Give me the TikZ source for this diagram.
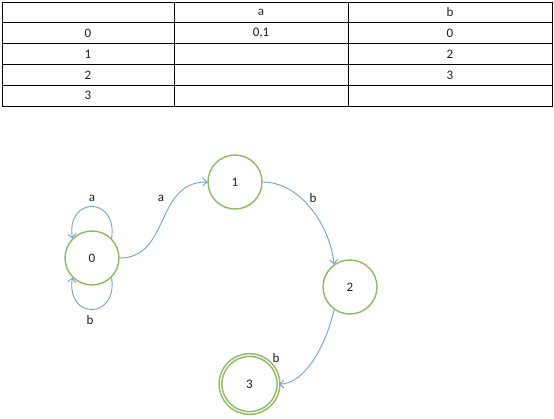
\documentclass[tikz,border=0pt]{standalone}
\usepackage{fontspec}
\setmainfont{Carlito}
\usetikzlibrary{arrows.meta}
\definecolor{stgreen}{RGB}{140,186,92}
\definecolor{edgeblue}{RGB}{118,160,212}
\definecolor{txt}{RGB}{30,30,30}
\begin{document}
\begin{tikzpicture}[x=1pt,y=-1pt,
  every node/.style={font=\fontsize{13}{15}\selectfont, text=txt},
  gridline/.style={draw=black, line width=0.7pt},
  state/.style={circle, draw=stgreen, line width=1.4pt, minimum size=54pt, inner sep=0pt, fill=white},
  accept/.style={circle, draw=stgreen, line width=1.5pt, double=white, double distance=1.2pt, minimum size=58pt, inner sep=0pt},
  edge/.style={draw=edgeblue, line width=0.9pt, -{Straight Barb[length=4pt,width=8pt]}},
  lbl/.style={inner sep=1pt}]
\useasboundingbox (0,0) rectangle (554,418);
% table
\draw[gridline] (2,2) rectangle (552,106);
\foreach \y in {22.7,43.3,64.3,85} \draw[gridline] (2,\y) -- (552,\y);
\foreach \x in {174,348} \draw[gridline] (\x,2) -- (\x,106);
\node (ha) at (261,12.5) {a};
\node (hb) at (450,12.5) {b};
\node (r0) at (88,33) {0};
\node (r0a) at (261,33) {0,1};
\node (r0b) at (450,33) {0};
\node (r1) at (88,54) {1};
\node (r1b) at (450,54) {2};
\node (r2) at (88,75) {2};
\node (r2b) at (450,75) {3};
\node (r3) at (88,95.5) {3};
% states
\node[state] (n0) at (92,258) {0};
\node[state] (n1) at (235,182) {1};
\node[state] (n2) at (350,287) {2};
\node[accept] (n3) at (249.5,384) {3};
% edges
\draw[edge] (n0.45) .. controls (118,196) and (66,196) .. (n0.135);
\draw[edge] (n0.-45) .. controls (118,320) and (66,320) .. (n0.-135);
\draw[edge] (n0.east) .. controls (170,258) and (155,182) .. (n1.west);
\draw[edge] (n1.east) .. controls (300,182) and (330,225) .. (n2.125);
\draw[edge] (n2.235) .. controls (326,345) and (305,384) .. (n3.east);
% labels
\node[lbl] (la0) at (92,198) {a};
\node[lbl] (lb0) at (90,320) {b};
\node[lbl] (la01) at (161,198) {a};
\node[lbl] (lb12) at (313,198) {b};
\node[lbl] (lb23) at (276,358) {b};
\end{tikzpicture}
\end{document}
